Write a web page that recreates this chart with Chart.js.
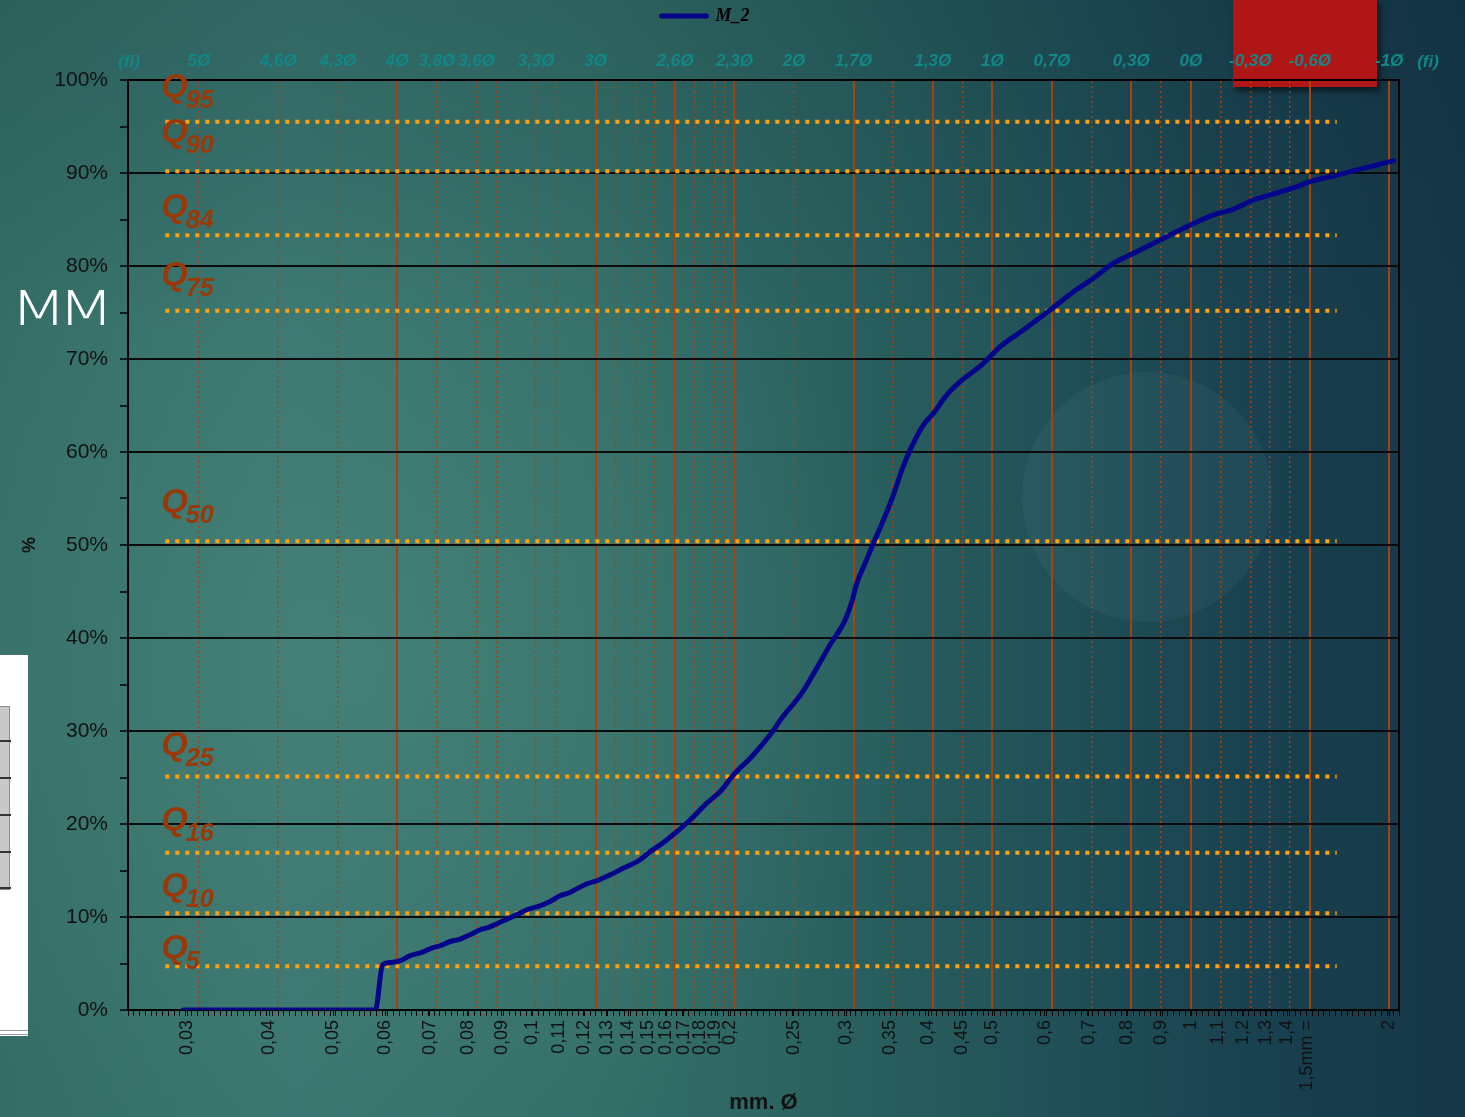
<!DOCTYPE html>
<html><head><meta charset="utf-8">
<script src="https://cdn.jsdelivr.net/npm/chart.js@4.4.1/dist/chart.umd.min.js"></script>
<style>
html,body{margin:0;padding:0;width:1465px;height:1117px;overflow:hidden;}
body{position:relative;background:
 radial-gradient(ellipse 560px 520px at 360px 660px, rgba(95,155,140,0.30), rgba(95,155,140,0) 100%),
 linear-gradient(180deg, rgba(5,25,35,0.16) 0%, rgba(5,25,35,0) 30%),
 linear-gradient(90deg,#336d66 0%,#3a7670 20%,#347069 40%,#29605f 58%,#1f4d56 75%,#183f4e 88%,#153748 100%);}
#red{position:absolute;left:1233px;top:0;width:144px;height:87px;background:#b01616;box-shadow:3px 4px 6px rgba(0,0,0,0.55);}
#circ{position:absolute;left:1022px;top:372px;width:250px;height:250px;border-radius:50%;background:rgba(150,200,200,0.06);}
#mm{position:absolute;left:10px;top:283px;color:#fff;font:200 48px "DejaVu Sans";letter-spacing:-7px;line-height:50px;transform:scaleX(1.38);transform-origin:0 0;}
#panel{position:absolute;left:0;top:655px;width:28px;height:381px;background:#fff;}
#tbl{position:absolute;left:0;top:706px;width:9px;height:182px;background:#c8c8c8;border:1px solid #8a8a8a;border-left:none;}
.rl{position:absolute;left:0;width:11px;height:2px;background:#333;}
.bl{position:absolute;left:0;width:28px;height:1px;background:#999;}
canvas{position:absolute;left:0;top:0;}
</style></head>
<body>
<div id="red"></div>
<div id="circ"></div>
<div id="mm">MM</div>
<div id="panel"></div>
<div id="tbl"></div>
<div class="rl" style="top:740px"></div>
<div class="rl" style="top:777px"></div>
<div class="rl" style="top:814px"></div>
<div class="rl" style="top:851px"></div>
<div class="rl" style="top:887px"></div>
<div class="bl" style="top:1030px"></div>
<div class="bl" style="top:1034px"></div>
<canvas id="c" width="1465" height="1117"></canvas>
<script>
// ---- data ----
const seriesName = 'M_2';
const mmValues = [0.0296, 0.0579, 0.0594, 0.0613, 0.0632, 0.0654, 0.0681, 0.0705, 0.0726, 0.0748, 0.0779, 0.0806, 0.0835, 0.0860, 0.0906, 0.0949, 0.0983, 0.1030, 0.1066, 0.1104, 0.1137, 0.1213, 0.1256, 0.1316, 0.1378, 0.1461, 0.1513, 0.1567, 0.1632, 0.1729, 0.1844, 0.1932, 0.2024, 0.2158, 0.2300, 0.2396, 0.2569, 0.2707, 0.2836, 0.2990, 0.3060, 0.3114, 0.3206, 0.3300, 0.3418, 0.3539, 0.3645, 0.3752, 0.3930, 0.4070, 0.4265, 0.4468, 0.4817, 0.5139, 0.5544, 0.6119, 0.6639, 0.7118, 0.7633, 0.8187, 0.9090, 0.9637, 1.0823, 1.161, 1.245, 1.320, 1.449, 1.518, 1.647, 1.787, 1.916, 2.030];
const passPct = [0, 0, 4.87, 5.12, 5.30, 5.84, 6.19, 6.66, 6.91, 7.31, 7.63, 8.09, 8.63, 8.88, 9.60, 10.24, 10.78, 11.21, 11.67, 12.29, 12.58, 13.58, 13.90, 14.54, 15.26, 16.16, 17.05, 17.77, 18.74, 20.27, 22.25, 23.50, 25.29, 27.26, 29.59, 31.39, 34.08, 36.76, 39.27, 41.95, 43.92, 45.90, 48.05, 50.20, 52.70, 55.39, 58.08, 60.23, 62.92, 64.17, 66.14, 67.57, 69.36, 71.33, 73.02, 75.28, 77.24, 78.68, 80.30, 81.37, 82.98, 83.88, 85.49, 86.10, 87.10, 87.64, 88.53, 89.07, 89.68, 90.33, 90.86, 91.33];

const qNames = ['95', '90', '84', '75', '50', '25', '16', '10', '5'];
const qLevels = [95.5, 90.2, 83.3, 75.2, 50.4, 25.1, 16.9, 10.4, 4.7];
const qLabelPct = [98.2, 93.3, 85.3, 78.0, 53.6, 27.4, 19.4, 12.3, 5.6];
const qFromMm = 0.0278;
const qToMm = 1.665;

const xTickVals = [0.03, 0.04, 0.05, 0.06, 0.07, 0.08, 0.09, 0.1, 0.11, 0.12, 0.13, 0.14, 0.15, 0.16, 0.17, 0.18, 0.19, 0.2, 0.25, 0.3, 0.35, 0.4, 0.45, 0.5, 0.6, 0.7, 0.8, 0.9, 1, 1.1, 1.2, 1.3, 1.4, 1.5, 2];
const xTickText = ['0,03', '0,04', '0,05', '0,06', '0,07', '0,08', '0,09', '0,1', '0,11', '0,12', '0,13', '0,14', '0,15', '0,16', '0,17', '0,18', '0,19', '0,2', '0,25', '0,3', '0,35', '0,4', '0,45', '0,5', '0,6', '0,7', '0,8', '0,9', '1', '1,1', '1,2', '1,3', '1,4', '1,5mm =', '2'];

const phiLines = [5, 4.6, 4.3, 4, 3.8, 3.6, 3.5, 3.3, 3.2, 3, 2.9, 2.8, 2.7, 2.6, 2.5, 2.4, 2.35, 2.3, 2, 1.7, 1.5, 1.3, 1.15, 1, 0.7, 0.5, 0.3, 0.15, 0, -0.15, -0.3, -0.4, -0.5, -0.6, -1];
const phiSolid = [4, 3, 2.6, 2.3, 1.7, 1.3, 1, 0.7, 0.3, 0, -0.6, -1];
const phiLabelVals = [5, 4.6, 4.3, 4, 3.8, 3.6, 3.3, 3, 2.6, 2.3, 2, 1.7, 1.3, 1, 0.7, 0.3, 0, -0.3, -0.6, -1];
const phiLabelText = ['5Ø', '4,6Ø', '4,3Ø', '4Ø', '3,8Ø', '3,6Ø', '3,3Ø', '3Ø', '2,6Ø', '2,3Ø', '2Ø', '1,7Ø', '1,3Ø', '1Ø', '0,7Ø', '0,3Ø', '0Ø', '-0,3Ø', '-0,6Ø', '-1Ø'];
const phiUnitText = '(fi)';

const yMin = 0, yMax = 100, yStep = 5;
const xMin = 0.0244, xMax = 2.07;

// ---- helpers ----
const phiToMm = p => Math.pow(2, -p);
const same = (a, b) => Math.abs(Math.log(a / b)) < 1e-7;
const findIdx = (arr, v) => arr.findIndex(a => same(a, v));
const phiOfMm = v => phiLines.find(p => same(phiToMm(p), v));

const ORANGE_LINE = '#a5420e';
const TEAL = '#128787';
const QCOL = '#9a3908';

Chart.defaults.font.family = '"Liberation Sans", Arial, sans-serif';

const curve = {
  label: seriesName,
  data: mmValues.map((m, i) => ({x: m, y: passPct[i]})),
  borderColor: '#05058a',
  backgroundColor: '#05058a',
  borderWidth: 5,
  borderCapStyle: 'round',
  borderJoinStyle: 'round',
  pointRadius: 0,
  cubicInterpolationMode: 'monotone',
  order: 0,
  xAxisID: 'x', yAxisID: 'y'
};
const qSets = qLevels.map((lv, i) => ({
  label: 'Q' + qNames[i],
  data: [{x: qFromMm, y: lv}, {x: qToMm, y: lv}],
  borderColor: '#ffa10a',
  borderWidth: 4,
  borderDash: [4, 6],
  borderCapStyle: 'butt',
  pointRadius: 0,
  order: 1,
  xAxisID: 'x', yAxisID: 'y'
}));

const textPlugin = {
  id: 'qtext',
  afterDatasetsDraw(chart) {
    const {ctx, chartArea, scales} = chart;
    const x = scales.x, y = scales.y;
    ctx.save();
    ctx.fillStyle = QCOL;
    ctx.textAlign = 'left';
    ctx.textBaseline = 'alphabetic';
    qNames.forEach((n, i) => {
      const px = x.getPixelForValue(qFromMm) - 4;
      const py = y.getPixelForValue(qLabelPct[i]);
      ctx.font = 'italic bold 34px "Liberation Sans"';
      ctx.fillText('Q', px, py);
      const w = ctx.measureText('Q').width;
      ctx.font = 'italic bold 25px "Liberation Sans"';
      ctx.fillText(n, px + w - 2, py + 11);
    });
    ctx.fillStyle = TEAL;
    ctx.font = 'italic bold 17px "Liberation Sans"';
    ctx.textAlign = 'center';
    ctx.textBaseline = 'bottom';
    ctx.fillText(phiUnitText, chartArea.left + 1, chartArea.top - 9);
    ctx.fillText(phiUnitText, chartArea.right + 29, chartArea.top - 9);
    ctx.restore();
  }
};

const minorCount = 220;

new Chart(document.getElementById('c'), {
  type: 'line',
  data: {datasets: [curve, ...qSets]},
  options: {
    responsive: false,
    animation: false,
    devicePixelRatio: 1,
    layout: {padding: 0},
    plugins: {
      legend: {
        display: true,
        position: 'top',
        align: 'center',
        labels: {
          filter: item => item.datasetIndex === 0,
          usePointStyle: true,
          pointStyle: 'line',
          pointStyleWidth: 45,
          padding: 7,
          color: '#000',
          font: {family: '"Liberation Serif", "Times New Roman", serif', size: 18, style: 'italic', weight: 'bold'},
          generateLabels(chart) {
            const items = Chart.defaults.plugins.legend.labels.generateLabels(chart);
            return items.filter(it => it.datasetIndex === 0).map(it => Object.assign(it, {text: it.text + '            ', lineWidth: 5, strokeStyle: '#05058a', lineCap: 'round'}));
          }
        }
      },
      tooltip: {enabled: false}
    },
    scales: {
      x: {
        type: 'logarithmic',
        position: 'bottom',
        min: xMin, max: xMax,
        afterBuildTicks(scale) {
          const vals = xTickVals.slice();
          for (let i = 0; i <= minorCount; i++) {
            vals.push(xMin * Math.pow(xMax / xMin, i / minorCount));
          }
          vals.sort((a, b) => a - b);
          scale.ticks = vals.map(v => ({value: v}));
        },
        afterFit(scale) { scale.height = 107; },
        ticks: {
          autoSkip: false,
          minRotation: 90, maxRotation: 90,
          padding: 4,
          color: '#111',
          font: {size: 18},
          callback(v) { const k = findIdx(xTickVals, v); return k >= 0 ? xTickText[k] : ''; }
        },
        grid: {drawOnChartArea: false, drawTicks: true, tickLength: 6, tickColor: '#000', tickWidth: 1, color: '#000'},
        border: {display: true, color: '#000', width: 2},
        title: {display: true, text: 'mm. Ø', color: '#111', font: {size: 22, weight: 'bold'}, padding: {top: 0, bottom: 1}}
      },
      x2: {
        type: 'logarithmic',
        position: 'top',
        min: xMin, max: xMax,
        afterBuildTicks(scale) {
          scale.ticks = phiLines.map(phiToMm).sort((a, b) => a - b).map(v => ({value: v}));
        },
        afterFit(scale) { const lh = scale.chart.legend ? scale.chart.legend.height : 42; scale.height = 80 - lh; },
        ticks: {
          autoSkip: false,
          minRotation: 0, maxRotation: 0,
          padding: 8,
          color: TEAL,
          font: {size: 17, style: 'italic', weight: 'bold'},
          callback(v) { const p = phiOfMm(v); const k = phiLabelVals.indexOf(p); return k >= 0 ? phiLabelText[k] : ''; }
        },
        grid: {
          drawOnChartArea: true,
          drawTicks: false,
          color: ORANGE_LINE,
          lineWidth(ctx) { if (!ctx.tick) return 1; return phiSolid.includes(phiOfMm(ctx.tick.value)) ? 2 : 1.5; }
        },
        border: {
          display: true, color: '#000', width: 2,
          dash(ctx) { if (!ctx.tick) return []; return phiSolid.includes(phiOfMm(ctx.tick.value)) ? [] : [2, 3]; }
        }
      },
      y: {
        type: 'linear',
        position: 'left',
        min: yMin, max: yMax,
        afterFit(scale) { scale.width = 128; },
        ticks: {
          stepSize: yStep,
          autoSkip: false,
          padding: 12,
          color: '#111',
          font: {size: 21},
          callback(v) { return v % 10 === 0 ? v + '%' : ''; }
        },
        grid: {
          drawOnChartArea: true,
          color(ctx) { return ctx.tick && ctx.tick.value % 10 === 0 ? '#0b0b0b' : 'rgba(0,0,0,0)'; },
          lineWidth: 2,
          tickColor: '#000',
          tickLength: 8,
          tickWidth: 1.5
        },
        border: {display: true, color: '#000', width: 2},
        title: {display: true, text: '%', color: '#111', font: {size: 18, weight: 'bold'}, padding: {top: 19, bottom: 0}}
      },
      y2: {
        type: 'linear',
        position: 'right',
        min: 0, max: 1,
        afterFit(scale) { scale.width = 66; },
        ticks: {display: false},
        grid: {drawOnChartArea: false, drawTicks: false},
        border: {display: true, color: '#000', width: 2}
      }
    }
  },
  plugins: [textPlugin]
});
</script>
</body></html>
